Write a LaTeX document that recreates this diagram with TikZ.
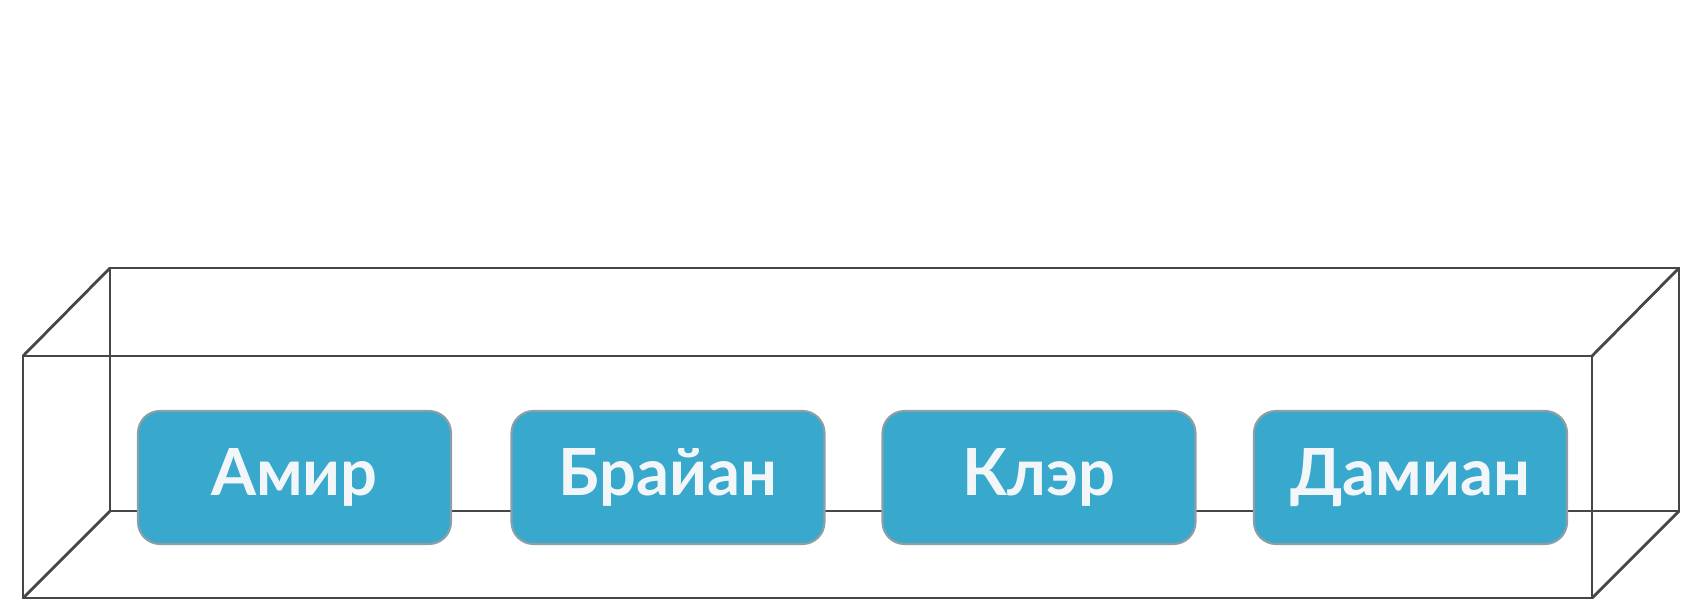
\documentclass[tikz,border=0pt]{standalone}
\usepackage{fontspec}
\setmainfont{Lato}
\usepackage{tikz}
\definecolor{nameblue}{HTML}{38A8CC}
\definecolor{nameedge}{HTML}{8C9EA6}
\definecolor{nametext}{HTML}{F2F6F8}
\definecolor{boxline}{HTML}{464646}
\tikzset{
    namebox/.style={shape=rectangle, rounded corners=0.22cm, draw=nameedge, line width=0.6pt,
        fill=nameblue, text=nametext, minimum width=3.13cm, minimum height=1.33cm,
        font=\fontsize{18.5}{22}\selectfont\bfseries},
    boxedge/.style={draw=boxline, line width=0.8pt}}

\begin{document}
\begin{tikzpicture}

    \useasboundingbox (0,0) rectangle (17.03,6.08);

    \coordinate (FBL) at (0.23,0.10);
    \coordinate (FBR) at (15.92,0.10);
    \coordinate (FTR) at (15.92,2.52);
    \coordinate (FTL) at (0.23,2.52);
    \coordinate (BBL) at (1.10,0.97);
    \coordinate (BBR) at (16.79,0.97);
    \coordinate (BTR) at (16.79,3.40);
    \coordinate (BTL) at (1.10,3.40);

    \draw[boxedge] (BBL) -- (BBR) -- (BTR) -- (BTL) -- cycle;
    \draw[boxedge] (FBL) -- (BBL);
    \draw[boxedge] (FBR) -- (BBR);
    \draw[boxedge] (FTR) -- (BTR);
    \draw[boxedge] (FTL) -- (BTL);
    \draw[boxedge] (FBL) -- (FBR) -- (FTR) -- (FTL) -- cycle;

    \node[namebox] (A) at (2.945,1.305) {Амир};
    \node[namebox] (B) at (6.68,1.305) {Брайан};
    \node[namebox] (C) at (10.39,1.305) {Клэр};
    \node[namebox] (D) at (14.105,1.305) {Дамиан};

\end{tikzpicture}
\end{document}
